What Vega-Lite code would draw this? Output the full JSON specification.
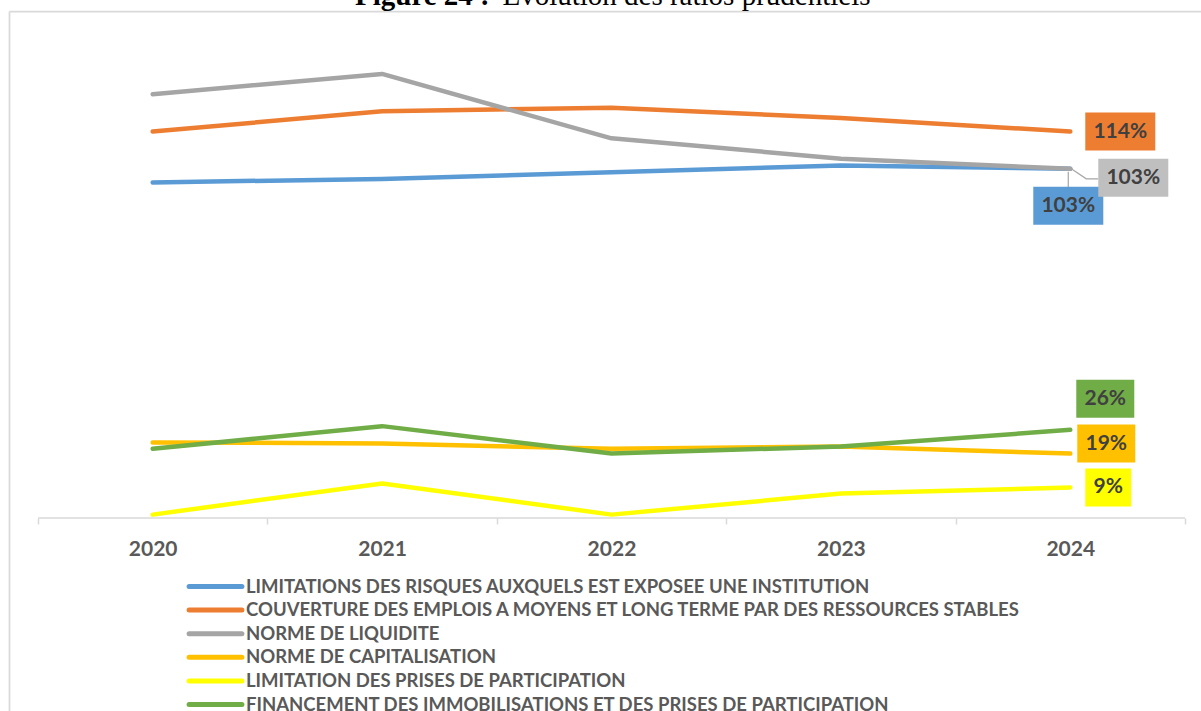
{
  "$schema": "https://vega.github.io/schema/vega-lite/v6.json",
  "autosize": {"type": "none"},
  "padding": {"left": 9, "top": 11, "right": 0, "bottom": 0},
  "width": 1192,
  "height": 700,
  "background": "#ffffff",
  "title": {
    "text": "Figure 24 :",
    "subtitle": "\u200b\u00a0\u00a0\u00a0\u00a0\u00a0\u00a0\u00a0\u00a0\u00a0\u00a0\u00a0\u00a0\u00a0\u00a0\u00a0\u00a0\u00a0\u00a0\u00a0\u00a0\u200aÉvolution des ratios prudentiels",
    "anchor": "start",
    "frame": "group",
    "dx": 346,
    "offset": 0,
    "font": "Liberation Serif",
    "fontSize": 29,
    "fontWeight": "bold",
    "color": "#000000",
    "subtitleFont": "Liberation Serif",
    "subtitleFontSize": 29,
    "subtitleFontWeight": "normal",
    "subtitleColor": "#000000",
    "subtitlePadding": -29,
    "lineHeight": 29,
    "subtitleLineHeight": 29
  },
  "data": {
    "values": [
      {"serie": "LIMITATIONS DES RISQUES AUXQUELS EST EXPOSEE UNE INSTITUTION", "annee": "2020", "valeur": 99},
      {"serie": "LIMITATIONS DES RISQUES AUXQUELS EST EXPOSEE UNE INSTITUTION", "annee": "2021", "valeur": 100},
      {"serie": "LIMITATIONS DES RISQUES AUXQUELS EST EXPOSEE UNE INSTITUTION", "annee": "2022", "valeur": 102},
      {"serie": "LIMITATIONS DES RISQUES AUXQUELS EST EXPOSEE UNE INSTITUTION", "annee": "2023", "valeur": 104},
      {"serie": "LIMITATIONS DES RISQUES AUXQUELS EST EXPOSEE UNE INSTITUTION", "annee": "2024", "valeur": 103},
      {"serie": "COUVERTURE DES EMPLOIS A MOYENS ET LONG TERME PAR DES RESSOURCES STABLES", "annee": "2020", "valeur": 114},
      {"serie": "COUVERTURE DES EMPLOIS A MOYENS ET LONG TERME PAR DES RESSOURCES STABLES", "annee": "2021", "valeur": 120},
      {"serie": "COUVERTURE DES EMPLOIS A MOYENS ET LONG TERME PAR DES RESSOURCES STABLES", "annee": "2022", "valeur": 121},
      {"serie": "COUVERTURE DES EMPLOIS A MOYENS ET LONG TERME PAR DES RESSOURCES STABLES", "annee": "2023", "valeur": 118},
      {"serie": "COUVERTURE DES EMPLOIS A MOYENS ET LONG TERME PAR DES RESSOURCES STABLES", "annee": "2024", "valeur": 114},
      {"serie": "NORME DE LIQUIDITE", "annee": "2020", "valeur": 125},
      {"serie": "NORME DE LIQUIDITE", "annee": "2021", "valeur": 131},
      {"serie": "NORME DE LIQUIDITE", "annee": "2022", "valeur": 112},
      {"serie": "NORME DE LIQUIDITE", "annee": "2023", "valeur": 106},
      {"serie": "NORME DE LIQUIDITE", "annee": "2024", "valeur": 103},
      {"serie": "NORME DE CAPITALISATION", "annee": "2020", "valeur": 22.3},
      {"serie": "NORME DE CAPITALISATION", "annee": "2021", "valeur": 22},
      {"serie": "NORME DE CAPITALISATION", "annee": "2022", "valeur": 20.4},
      {"serie": "NORME DE CAPITALISATION", "annee": "2023", "valeur": 21.1},
      {"serie": "NORME DE CAPITALISATION", "annee": "2024", "valeur": 19},
      {"serie": "LIMITATION DES PRISES DE PARTICIPATION", "annee": "2020", "valeur": 1},
      {"serie": "LIMITATION DES PRISES DE PARTICIPATION", "annee": "2021", "valeur": 10.2},
      {"serie": "LIMITATION DES PRISES DE PARTICIPATION", "annee": "2022", "valeur": 1},
      {"serie": "LIMITATION DES PRISES DE PARTICIPATION", "annee": "2023", "valeur": 7.2},
      {"serie": "LIMITATION DES PRISES DE PARTICIPATION", "annee": "2024", "valeur": 9},
      {"serie": "FINANCEMENT DES IMMOBILISATIONS ET DES PRISES DE PARTICIPATION", "annee": "2020", "valeur": 20.4},
      {"serie": "FINANCEMENT DES IMMOBILISATIONS ET DES PRISES DE PARTICIPATION", "annee": "2021", "valeur": 27.1},
      {"serie": "FINANCEMENT DES IMMOBILISATIONS ET DES PRISES DE PARTICIPATION", "annee": "2022", "valeur": 19},
      {"serie": "FINANCEMENT DES IMMOBILISATIONS ET DES PRISES DE PARTICIPATION", "annee": "2023", "valeur": 21.1},
      {"serie": "FINANCEMENT DES IMMOBILISATIONS ET DES PRISES DE PARTICIPATION", "annee": "2024", "valeur": 26}
    ]
  },
  "layer": [
    {
      "encoding": {
        "x": {
          "field": "annee", "type": "nominal", "bandPosition": 0.5,
          "scale": {"type": "band", "domain": ["2020", "2021", "2022", "2023", "2024"], "paddingInner": 0, "paddingOuter": 0.0981, "align": 0.644},
          "axis": {"orient": "bottom", "offset": -193, "title": null, "domain": false, "tickBand": "extent", "ticks": true, "tickSize": 6, "tickColor": "#d9d9d9", "tickWidth": 1.5, "labelFont": "Lato", "labelFontSize": 21, "labelFontWeight": "bold", "labelColor": "#595959", "labelPadding": 14, "labelAngle": 0, "grid": false}
        },
        "y": {
          "field": "valeur", "type": "quantitative",
          "scale": {"domain": [-56.93, 149.56], "nice": false, "zero": false},
          "axis": {"orient": "left", "title": null, "domain": true, "domainColor": "#d9d9d9", "domainWidth": 1.75, "ticks": false, "labels": false, "grid": false}
        }
      },
      "layer": [
        {
          "mark": {"type": "line", "strokeWidth": 4.5, "strokeCap": "round", "strokeJoin": "round"},
          "encoding": {
            "color": {
              "field": "serie", "type": "nominal",
              "scale": {
                "domain": [
                  "LIMITATIONS DES RISQUES AUXQUELS EST EXPOSEE UNE INSTITUTION",
                  "COUVERTURE DES EMPLOIS A MOYENS ET LONG TERME PAR DES RESSOURCES STABLES",
                  "NORME DE LIQUIDITE",
                  "NORME DE CAPITALISATION",
                  "LIMITATION DES PRISES DE PARTICIPATION",
                  "FINANCEMENT DES IMMOBILISATIONS ET DES PRISES DE PARTICIPATION"
                ],
                "range": ["#5B9BD5", "#ED7D31", "#A5A5A5", "#FFC000", "#FFFF00", "#70AD47"]
              },
              "legend": {
                "orient": "none", "legendX": 196, "legendY": 565, "direction": "vertical", "title": null,
                "symbolType": "M-3.3,0L3.3,0", "symbolSize": 256, "symbolStrokeWidth": 5,
                "labelFont": "Lato", "labelFontSize": 18.5, "labelFontWeight": "bold", "labelColor": "#595959",
                "labelLimit": 0, "labelOffset": 20, "rowPadding": 2.6, "padding": 0,
                "encode": {"symbols": {"update": {"strokeCap": {"value": "round"}}}}
              }
            }
          }
        },
        {
          "transform": [{"filter": "datum.annee == '2024' && datum.serie == 'LIMITATIONS DES RISQUES AUXQUELS EST EXPOSEE UNE INSTITUTION'"}, {"calculate": "format(datum.valeur, '.0f') + '%'", "as": "etiquette"}],
          "layer": [
            {"mark": {"type": "point", "shape": "M-2,3V19", "size": 4, "filled": false, "stroke": "#a6a6a6", "strokeWidth": 1.2, "opacity": 1}},
            {"mark": {"type": "point", "shape": "M-35,-19h70v38h-70z", "size": 4, "filled": true, "fill": "#5B9BD5", "strokeWidth": 0, "opacity": 1, "xOffset": -2, "yOffset": 37}},
            {"mark": {"type": "text", "dx": -2, "dy": 37, "font": "Lato", "fontSize": 21, "fontWeight": "bold", "color": "#404040", "align": "center", "baseline": "middle"}, "encoding": {"text": {"field": "etiquette"}}}
          ]
        },
        {
          "transform": [{"filter": "datum.annee == '2024' && datum.serie == 'NORME DE LIQUIDITE'"}, {"calculate": "format(datum.valeur, '.0f') + '%'", "as": "etiquette"}],
          "layer": [
            {"mark": {"type": "point", "shape": "M1,0L16,10H28", "size": 4, "filled": false, "stroke": "#a6a6a6", "strokeWidth": 1.2, "opacity": 1}},
            {"mark": {"type": "point", "shape": "M-35,-19h70v38h-70z", "size": 4, "filled": true, "fill": "#BFBFBF", "strokeWidth": 0, "opacity": 1, "xOffset": 63, "yOffset": 9}},
            {"mark": {"type": "text", "dx": 63, "dy": 9, "font": "Lato", "fontSize": 21, "fontWeight": "bold", "color": "#404040", "align": "center", "baseline": "middle"}, "encoding": {"text": {"field": "etiquette"}}}
          ]
        },
        {
          "transform": [{"filter": "datum.annee == '2024' && datum.serie == 'COUVERTURE DES EMPLOIS A MOYENS ET LONG TERME PAR DES RESSOURCES STABLES'"}, {"calculate": "format(datum.valeur, '.0f') + '%'", "as": "etiquette"}],
          "layer": [
            {"mark": {"type": "point", "shape": "M-35,-19h70v38h-70z", "size": 4, "filled": true, "fill": "#ED7D31", "strokeWidth": 0, "opacity": 1, "xOffset": 50, "yOffset": 0}},
            {"mark": {"type": "text", "dx": 50, "dy": 0, "font": "Lato", "fontSize": 21, "fontWeight": "bold", "color": "#404040", "align": "center", "baseline": "middle"}, "encoding": {"text": {"field": "etiquette"}}}
          ]
        },
        {
          "transform": [{"filter": "datum.annee == '2024' && datum.serie == 'FINANCEMENT DES IMMOBILISATIONS ET DES PRISES DE PARTICIPATION'"}, {"calculate": "format(datum.valeur, '.0f') + '%'", "as": "etiquette"}],
          "layer": [
            {"mark": {"type": "point", "shape": "M-29,-19h58v38h-58z", "size": 4, "filled": true, "fill": "#70AD47", "strokeWidth": 0, "opacity": 1, "xOffset": 35, "yOffset": -31}},
            {"mark": {"type": "text", "dx": 35, "dy": -31, "font": "Lato", "fontSize": 21, "fontWeight": "bold", "color": "#404040", "align": "center", "baseline": "middle"}, "encoding": {"text": {"field": "etiquette"}}}
          ]
        },
        {
          "transform": [{"filter": "datum.annee == '2024' && datum.serie == 'NORME DE CAPITALISATION'"}, {"calculate": "format(datum.valeur, '.0f') + '%'", "as": "etiquette"}],
          "layer": [
            {"mark": {"type": "point", "shape": "M-29,-19h58v38h-58z", "size": 4, "filled": true, "fill": "#FFC000", "strokeWidth": 0, "opacity": 1, "xOffset": 36, "yOffset": -10}},
            {"mark": {"type": "text", "dx": 36, "dy": -10, "font": "Lato", "fontSize": 21, "fontWeight": "bold", "color": "#404040", "align": "center", "baseline": "middle"}, "encoding": {"text": {"field": "etiquette"}}}
          ]
        },
        {
          "transform": [{"filter": "datum.annee == '2024' && datum.serie == 'LIMITATION DES PRISES DE PARTICIPATION'"}, {"calculate": "format(datum.valeur, '.0f') + '%'", "as": "etiquette"}],
          "layer": [
            {"mark": {"type": "point", "shape": "M-23,-19h46v38h-46z", "size": 4, "filled": true, "fill": "#FFFF00", "strokeWidth": 0, "opacity": 1, "xOffset": 38, "yOffset": 0}},
            {"mark": {"type": "text", "dx": 38, "dy": 0, "font": "Lato", "fontSize": 21, "fontWeight": "bold", "color": "#404040", "align": "center", "baseline": "middle"}, "encoding": {"text": {"field": "etiquette"}}}
          ]
        }
      ]
    },
    {
      "data": {"values": [{}]},
      "mark": {"type": "rule", "color": "#d9d9d9", "strokeWidth": 1.5},
      "encoding": {
        "x": {"datum": "2020", "type": "nominal", "bandPosition": 0,
          "axis": {"orient": "top", "title": null, "domain": true, "domainColor": "#d9d9d9", "domainWidth": 1.75, "ticks": false, "labels": false, "grid": false}},
        "x2": {"datum": "2024", "bandPosition": 1},
        "y": {"datum": 0, "type": "quantitative", "axis": null}
      }
    }
  ],
  "resolve": {"axis": {"x": "independent", "y": "independent"}},
  "config": {"view": {"stroke": null}, "font": "Lato"}
}
